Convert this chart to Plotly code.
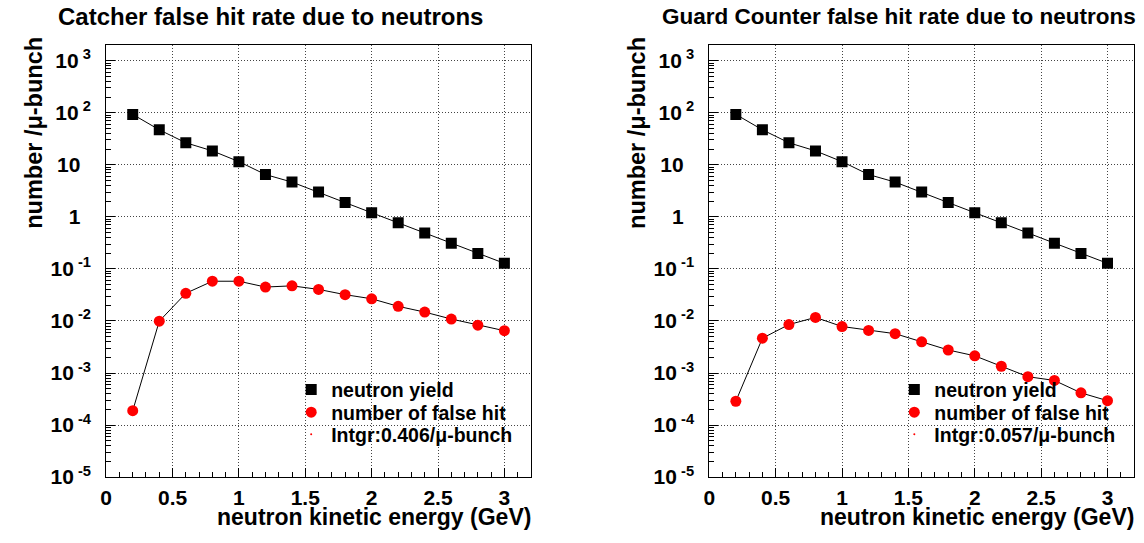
import plotly.graph_objects as go

# ---------------- data ----------------
energy = [0.2, 0.4, 0.6, 0.8, 1.0, 1.2, 1.4, 1.6, 1.8, 2.0, 2.2, 2.4, 2.6, 2.8, 3.0]
neutron_yield = [93, 47, 26.5, 18.5, 11.5, 6.5, 4.65, 3.0, 1.88, 1.2, 0.77, 0.49, 0.31, 0.197, 0.128]
catcher_false_hit = [1.89e-4, 0.0099, 0.034, 0.058, 0.058, 0.0448, 0.0473, 0.0404, 0.032,
                     0.0267, 0.0191, 0.0148, 0.0109, 0.0083, 0.0065]
guard_false_hit = [2.87e-4, 0.00466, 0.00853, 0.0117, 0.00782, 0.00658, 0.0057, 0.00398,
                   0.00277, 0.00214, 0.00135, 0.00085, 0.00072, 0.000416, 0.000294]
catcher_integral = "0.406"
guard_integral = "0.057"

panel_titles = ["Catcher false hit rate due to neutrons",
                "Guard Counter false hit rate due to neutrons"]
x_tick_vals = [0, 0.5, 1, 1.5, 2, 2.5, 3]
x_tick_text = ["0", "0.5", "1", "1.5", "2", "2.5", "3"]
y_exponents = [3, 2, 1, 0, -1, -2, -3, -4, -5]
x_title = "neutron kinetic energy (GeV)"
y_title = "number /\u03bc-bunch"

# ---------------- geometry (reference pixel coords) ----------------
FONT = "Liberation Sans"
W, H = 1144, 543
frames = [(100.7, 527.7), (707.0, 1134.0)]
title_sizes = [24, 22.5]
y_top, y_bot = 46.0, 487.0


def px(x):
    return x / W


def py(y):
    return 1 - y / H


def ytick_label(e):
    if e == 0:
        return "1\u2002"
    if e == 1:
        return "10\u2002"
    return "10<sup> %d</sup>" % e


y_tick_vals = [10.0 ** e for e in y_exponents]
y_tick_text = [ytick_label(e) for e in y_exponents]
y_minor_vals = [k * 10.0 ** e for e in range(-5, 4) for k in range(2, 10)]
x_minor_vals = [i / 10 for i in range(0, 33)]

fig = go.Figure()

series_sets = [
    (catcher_false_hit, catcher_integral),
    (guard_false_hit, guard_integral),
]

for i, (false_hit, integral) in enumerate(series_sets):
    xa = "x" if i == 0 else "x2"
    ya = "y" if i == 0 else "y2"
    legs = ["legend%d" % (3 * i + k) if (3 * i + k) > 1 else "legend" for k in (1, 2, 3)]
    fig.add_trace(go.Scatter(x=energy, y=neutron_yield, mode="lines",
                             line=dict(color="black", width=1),
                             xaxis=xa, yaxis=ya, showlegend=False, hoverinfo="skip"))
    fig.add_trace(go.Scatter(x=energy, y=false_hit, mode="lines",
                             line=dict(color="black", width=1),
                             xaxis=xa, yaxis=ya, showlegend=False, hoverinfo="skip"))
    fig.add_trace(go.Scatter(x=energy, y=neutron_yield, mode="markers",
                             marker=dict(symbol="square", size=11, color="black"),
                             name="neutron yield", legend=legs[0],
                             xaxis=xa, yaxis=ya))
    fig.add_trace(go.Scatter(x=energy, y=false_hit, mode="markers",
                             marker=dict(symbol="circle", size=11, color="#ff0000"),
                             name="number of false hit", legend=legs[1],
                             xaxis=xa, yaxis=ya))
    fig.add_trace(go.Scatter(x=[None], y=[None], mode="markers",
                             marker=dict(symbol="circle", size=2, color="#ff0000"),
                             name="Intgr:%s/\u03bc-bunch" % integral, legend=legs[2],
                             xaxis=xa, yaxis=ya))

axis_font = dict(family=FONT, size=21, color="black", weight="bold")
grid_style = dict(showgrid=True, gridcolor="#444444", gridwidth=1, griddash="1px,2px")

for i, (xl, xr) in enumerate(frames):
    xkey = "xaxis" if i == 0 else "xaxis2"
    ykey = "yaxis" if i == 0 else "yaxis2"
    fig.layout[xkey] = dict(
        domain=[px(xl), px(xr)], range=[0, 3.2],
        anchor="y" if i == 0 else "y2",
        tickmode="array", tickvals=x_tick_vals, ticktext=x_tick_text,
        ticks="inside", ticklen=9, tickcolor="black", tickwidth=1,
        minor=dict(tickmode="array", tickvals=x_minor_vals, ticks="inside",
                   ticklen=5, tickcolor="black", showgrid=False),
        showline=True, linecolor="black", linewidth=1, mirror=True,
        zeroline=False, tickfont=axis_font, ticklabelstandoff=2, **grid_style,
    )
    fig.layout[ykey] = dict(
        domain=[py(y_bot), py(y_top)], type="log", range=[-5, 3.3],
        anchor="x" if i == 0 else "x2",
        tickmode="array", tickvals=y_tick_vals, ticktext=y_tick_text,
        ticks="inside", ticklen=9, tickcolor="black", tickwidth=1,
        minor=dict(tickmode="array", tickvals=y_minor_vals, ticks="inside",
                   ticklen=5, tickcolor="black", showgrid=False),
        showline=True, linecolor="black", linewidth=1, mirror=True,
        zeroline=False, tickfont=axis_font, ticklabelstandoff=10, **grid_style,
    )

annotations = []
for i, (xl, xr) in enumerate(frames):
    annotations.append(dict(text=panel_titles[i], xref="paper", yref="paper",
                            x=px(xl - 50), y=py(17), xanchor="left", yanchor="middle",
                            showarrow=False,
                            font=dict(family=FONT, size=title_sizes[i], color="black",
                                      weight="bold")))
    annotations.append(dict(text=x_title, xref="paper", yref="paper",
                            x=px(xr + 2), y=py(528), xanchor="right", yanchor="middle",
                            showarrow=False,
                            font=dict(family=FONT, size=23, color="black", weight="bold")))
    annotations.append(dict(text=y_title, xref="paper", yref="paper",
                            x=px(xl - 72), y=py(36), xanchor="center", yanchor="top",
                            textangle=-90, showarrow=False,
                            font=dict(family=FONT, size=23.5, color="black", weight="bold")))

legend_style = dict(font=dict(family=FONT, size=19.5, color="black", weight="bold"),
                    bgcolor="rgba(0,0,0,0)", borderwidth=0,
                    xanchor="left", yanchor="middle",
                    itemclick=False, itemdoubleclick=False)

legend_rows = [398, 421, 443.5]
layout_legends = {}
for i, (xl, xr) in enumerate(frames):
    for k, yrow in enumerate(legend_rows):
        idx = 3 * i + k + 1
        key = "legend" if idx == 1 else "legend%d" % idx
        layout_legends[key] = dict(x=px(xl + 186), y=py(yrow), **legend_style)

fig.update_layout(
    width=W, height=H,
    margin=dict(l=0, r=0, t=0, b=0),
    paper_bgcolor="white", plot_bgcolor="white",
    annotations=annotations,
    showlegend=True,
    **layout_legends,
)

fig.write_html("out.html",
               config={"displayModeBar": False},
               post_script="document.body.style.margin='0';"
                           "document.body.style.overflow='hidden';")
